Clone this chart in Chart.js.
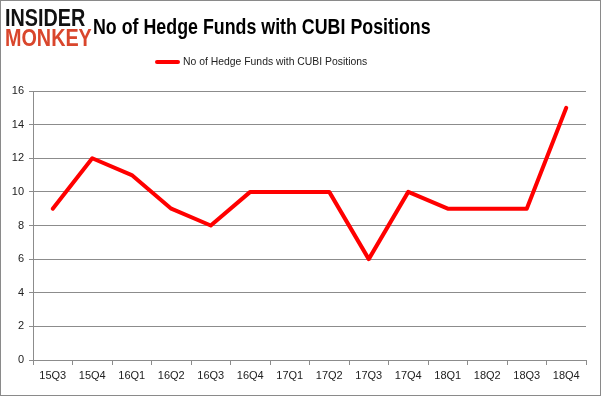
<!DOCTYPE html>
<html>
<head>
<meta charset="utf-8">
<script src="https://cdn.jsdelivr.net/npm/chart.js@4"></script>
<style>
  body { margin: 0; background: #fff; }
  #wrap { position: relative; width: 601px; height: 396px; }
  #frame { position: absolute; left: 0; top: 0; width: 601px; height: 396px; box-sizing: border-box; border: 1px solid #8a8a8a; pointer-events: none; }
  .logo { position: absolute; left: 5px; font-family: "Liberation Sans", Arial, sans-serif; font-weight: bold; font-size: 23px; line-height: 23px; transform: scaleX(0.86); transform-origin: left top; }
  #title { position: absolute; left: 93px; top: 14px; font-family: "Liberation Sans", Arial, sans-serif; font-weight: bold; font-size: 22px; color: #000; white-space: nowrap; transform: scaleX(0.81); transform-origin: left top; }
  #legend { position: absolute; left: 155px; top: 56px; font-family: "Liberation Sans", Arial, sans-serif; font-size: 10.4px; color: #222; white-space: nowrap; }
  #legend span.swatch { display: inline-block; width: 25px; height: 4px; background: #ff0000; border-radius: 2px; vertical-align: middle; margin-right: 3px; }
</style>
</head>
<body>
<div id="wrap">
  <canvas id="chart" width="601" height="396"></canvas>
  <div class="logo" style="top:7px;color:#111;">INSIDER</div>
  <div class="logo" style="top:27px;color:#d9462c;">MONKEY</div>
  <div id="title">No of Hedge Funds with CUBI Positions</div>
  <div id="legend"><span class="swatch"></span>No of Hedge Funds with CUBI Positions</div>
  <div id="frame"></div>
</div>
<script>
  // quarters and hedge fund counts
  const quarters = ['15Q3', '15Q4', '16Q1', '16Q2', '16Q3', '16Q4', '17Q1', '17Q2', '17Q3', '17Q4', '18Q1', '18Q2', '18Q3', '18Q4'];
  const fundCounts = [9, 12, 11, 9, 8, 10, 10, 10, 6, 10, 9, 9, 9, 15];
  const seriesName = 'No of Hedge Funds with CUBI Positions';

  const gridColor = '#8c8c8c';
  const tickFont = { family: '"Liberation Sans", Arial, sans-serif', size: 11 };

  const ctx = document.getElementById('chart').getContext('2d');
  new Chart(ctx, {
    type: 'line',
    data: {
      labels: quarters,
      datasets: [{
        label: seriesName,
        data: fundCounts,
        borderColor: '#ff0000',
        borderWidth: 4,
        pointRadius: 0,
        tension: 0,
        borderJoinStyle: 'round',
        borderCapStyle: 'round'
      }]
    },
    options: {
      responsive: false,
      animation: false,
      layout: { padding: { top: 91, right: 15, left: 0, bottom: 0 } },
      plugins: {
        legend: { display: false },
        title: { display: false },
        tooltip: { enabled: false }
      },
      scales: {
        x: {
          offset: true,
          grid: { offset: true, drawOnChartArea: false, drawTicks: true, tickLength: 5, color: gridColor },
          border: { color: gridColor, width: 1 },
          ticks: { color: '#222', font: tickFont, padding: 4, maxRotation: 0, autoSkip: false },
          afterFit: function (scale) { scale.height = 36; }
        },
        y: {
          min: 0,
          max: 16,
          ticks: { stepSize: 2, color: '#222', font: tickFont, padding: 5 },
          grid: { color: gridColor, tickLength: 4 },
          border: { color: gridColor, width: 1 },
          afterFit: function (scale) { scale.width = 33; }
        }
      }
    }
  });
</script>
</body>
</html>
